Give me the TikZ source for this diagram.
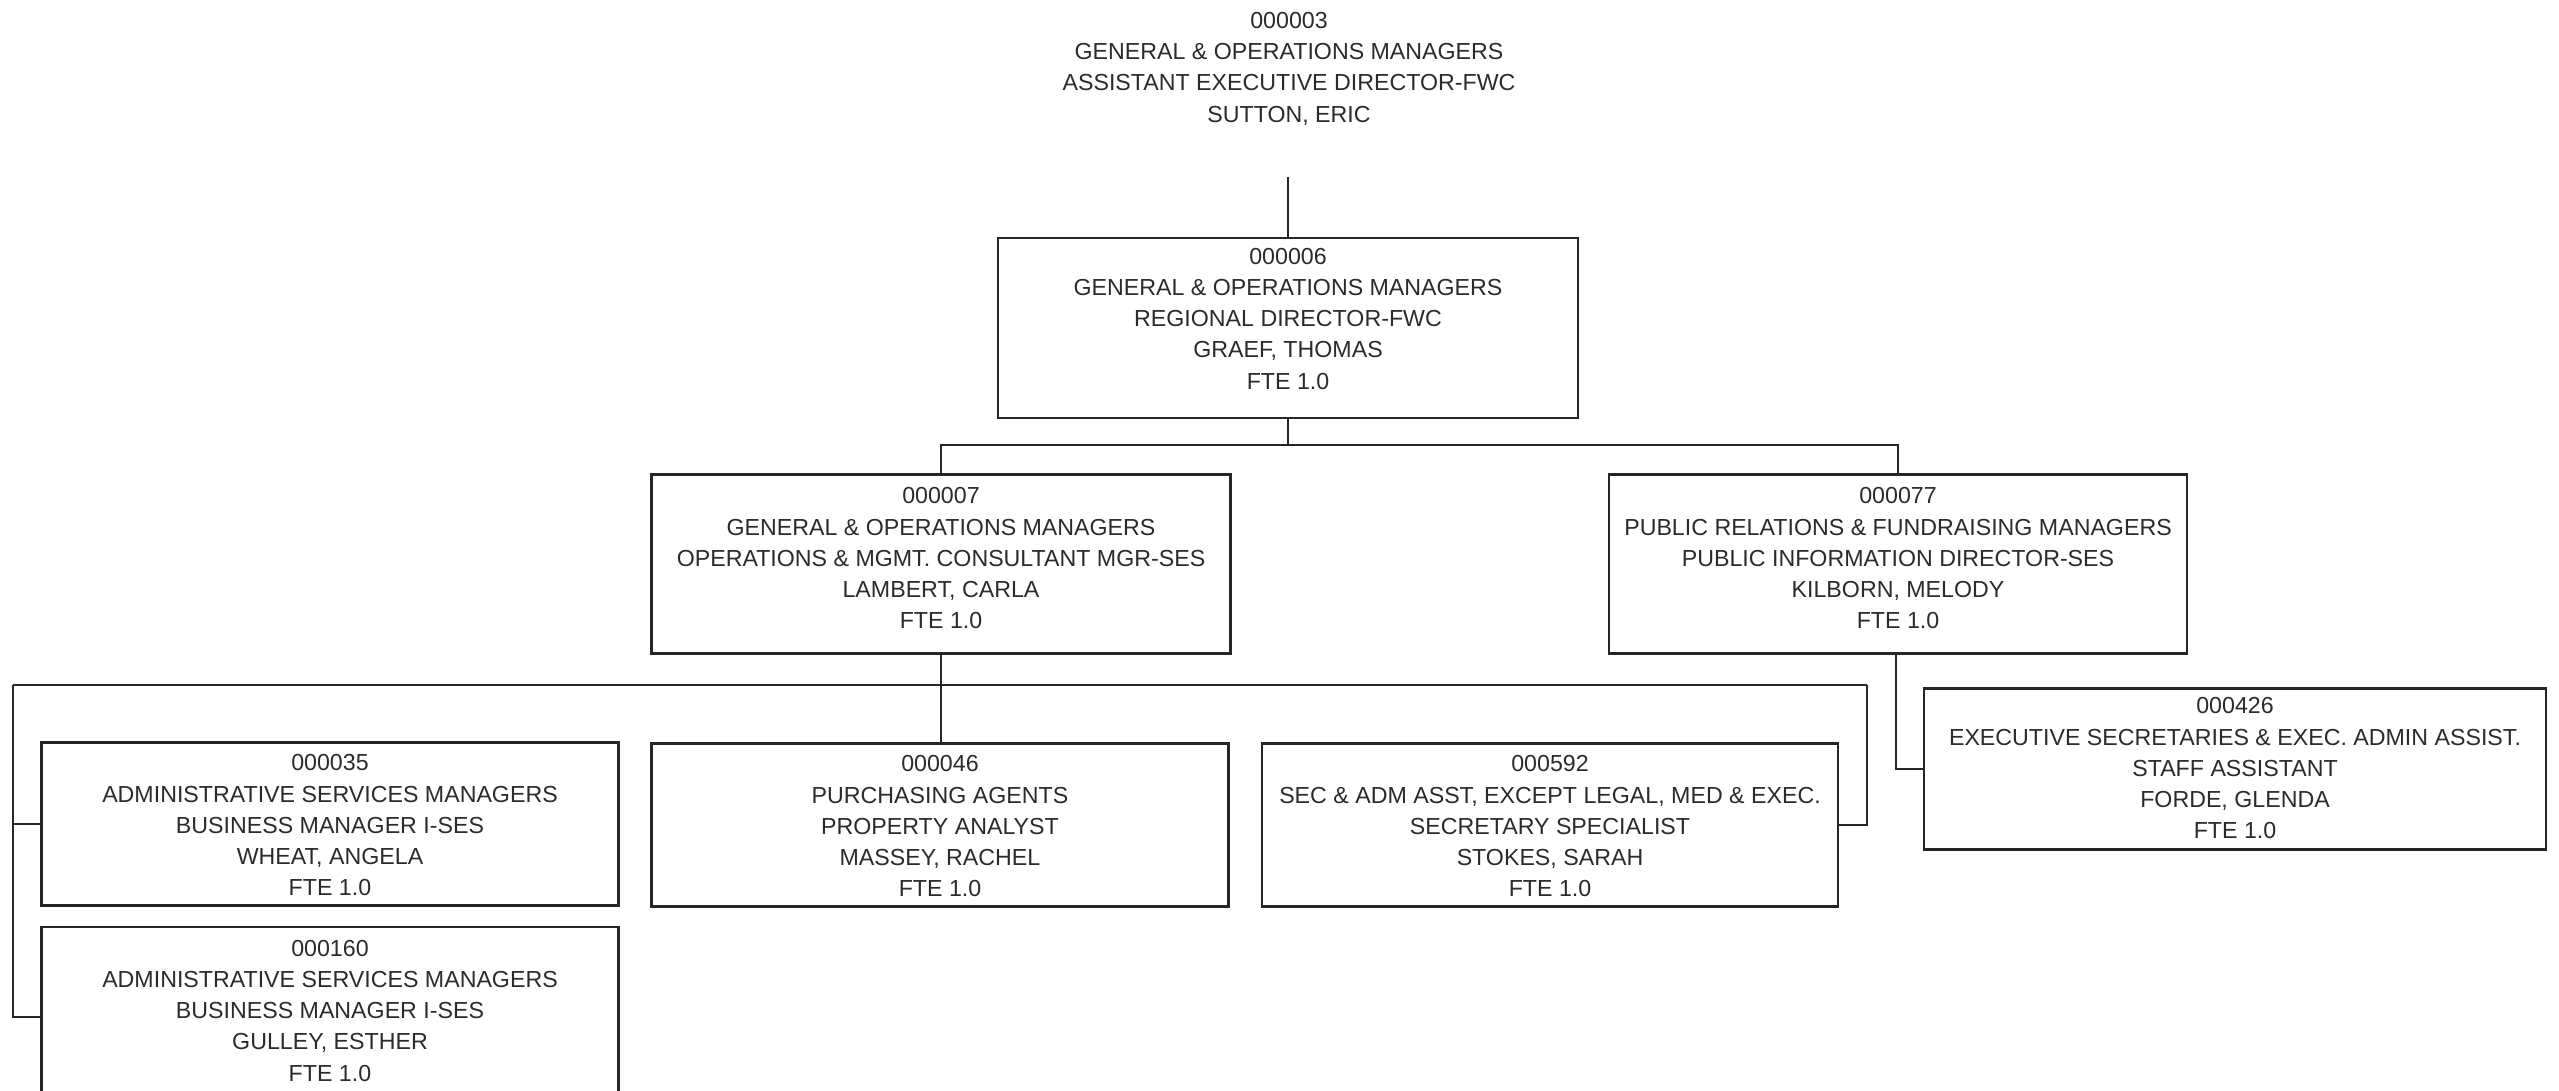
\documentclass[tikz,border=0pt]{standalone}
\usepackage{fontspec}
\setmainfont{Liberation Sans}
\usetikzlibrary{calc}
\definecolor{ink}{HTML}{2B2B2B}
\begin{document}
\begin{tikzpicture}[x=1pt,y=-1pt,
  posbox/.style={draw=black!85,line width=2.2pt,minimum width=#1,minimum height=163pt,inner sep=0pt},
  posbox/.default=578pt,
  postext/.style={anchor=north,align=center,inner sep=0pt,text=ink,
    font=\fontsize{23.2pt}{31.2pt}\selectfont},
  link/.style={draw=black!85,line width=2pt}]
\useasboundingbox (0,0) rectangle (2559,1090);
\clip (0,0) rectangle (2559,1090);
\fill[white] (0,0) rectangle (2559,1090);

% top position (no frame)
\node[postext] (t3) at (1289,12) {000003\\GENERAL \& OPERATIONS MANAGERS\\ASSISTANT EXECUTIVE DIRECTOR-FWC\\SUTTON, ERIC};

% level 1
\node[posbox=580pt,minimum height=180pt] (b6) at (1288,328) {};
\node[postext] (x6) at ($(b6.north)+(0,11)$) {000006\\GENERAL \& OPERATIONS MANAGERS\\REGIONAL DIRECTOR-FWC\\GRAEF, THOMAS\\FTE 1.0};
\coordinate (t3drop) at ($(b6.north)+(0,-60)$);

% level 2
\node[posbox=579pt,minimum height=179pt] (b7) at (941,564) {};
\node[postext] (x7) at ($(b7.north)+(0,14)$) {000007\\GENERAL \& OPERATIONS MANAGERS\\OPERATIONS \& MGMT. CONSULTANT MGR-SES\\LAMBERT, CARLA\\FTE 1.0};
\node[posbox=578pt,minimum height=179pt] (b77) at (1898,564) {};
\node[postext] (x77) at ($(b77.north)+(0,14)$) {000077\\PUBLIC RELATIONS \& FUNDRAISING MANAGERS\\PUBLIC INFORMATION DIRECTOR-SES\\KILBORN, MELODY\\FTE 1.0};

% level 3
\node[posbox=577pt] (b35) at (330,824) {};
\node[postext] (x35) at ($(b35.north)+(0,13)$) {000035\\ADMINISTRATIVE SERVICES MANAGERS\\BUSINESS MANAGER I-SES\\WHEAT, ANGELA\\FTE 1.0};
\node[posbox=577pt] (b46) at (940,825) {};
\node[postext] (x46) at ($(b46.north)+(0,13)$) {000046\\PURCHASING AGENTS\\PROPERTY ANALYST\\MASSEY, RACHEL\\FTE 1.0};
\node[posbox=576pt] (b592) at (1550,825) {};
\node[postext] (x592) at ($(b592.north)+(0,13)$) {000592\\SEC \& ADM ASST, EXCEPT LEGAL, MED \& EXEC.\\SECRETARY SPECIALIST\\STOKES, SARAH\\FTE 1.0};
\node[posbox=577pt,minimum height=180pt] (b160) at (330,1017) {};
\node[postext] (x160) at ($(b160.north)+(0,14)$) {000160\\ADMINISTRATIVE SERVICES MANAGERS\\BUSINESS MANAGER I-SES\\GULLEY, ESTHER\\FTE 1.0};
\node[posbox=622pt,minimum height=161pt] (b426) at (2235,769) {};
\node[postext] (x426) at ($(b426.north)+(0,10)$) {000426\\EXECUTIVE SECRETARIES \& EXEC. ADMIN ASSIST.\\STAFF ASSISTANT\\FORDE, GLENDA\\FTE 1.0};

% connectors
\coordinate (j6) at ($(b6.south)+(0,26)$);
\coordinate (busL) at (13,685);
\coordinate (busR) at (1867,685);
\draw[link] (t3drop) -- (b6.north);
\draw[link] (b6.south) -- (j6);
\draw[link] (j6) -| (b7.north);
\draw[link] (j6) -| (b77.north);
\draw[link] (b7.south) -- (b7.south |- b46.north);
\draw[link] (busL) -- (busR);
\draw[link] (busL) |- (b35.west);
\draw[link] (busL) |- (b160.west);
\draw[link] (busR) |- (b592.east);
\draw[link] (b77.south -| 1896,0) |- (b426.west);
\end{tikzpicture}
\end{document}
